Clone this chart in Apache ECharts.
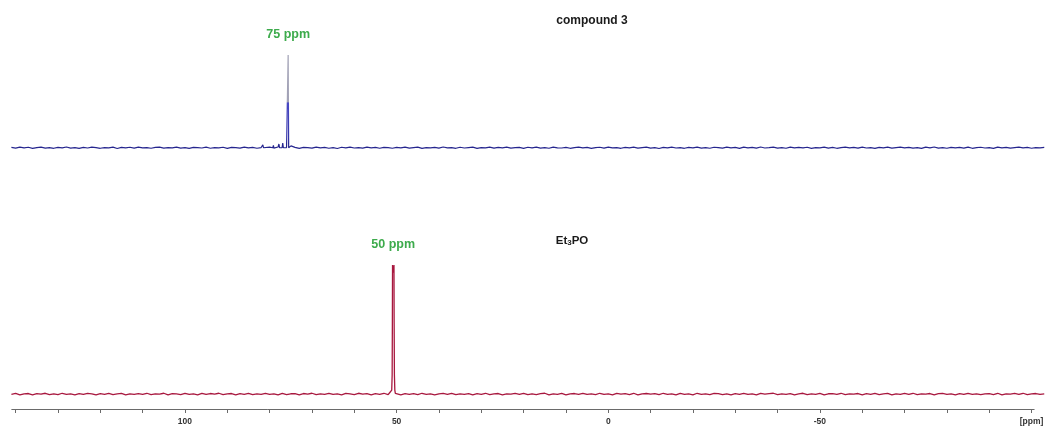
<!DOCTYPE html>
<html><head><meta charset="utf-8">
<script src="https://cdn.jsdelivr.net/npm/echarts@6/dist/echarts.min.js"></script>
<style>html,body{margin:0;padding:0;background:#fff}#c{width:1048px;height:430px}</style>
</head><body><div id="c"></div>
<script>
// ---- data ----
const baseStart = 141;            // ppm of first baseline sample (1 ppm steps, high -> low)
const topNoise = [
0.3,-0.5,0.7,-0.2,0.5,-0.7,0.2,0.6,-0.4,0.1,
-0.6,0.4,-0.2,0.8,-0.4,0.1,-0.7,0.4,-0.3,0.6,
0.1,-0.6,0.2,-0.1,0.6,-0.8,0.4,-0.1,0.5,-0.4,
0.7,-0.2,0.2,-0.6,0.3,0.6,-0.5,0.1,-0.2,0.7,
-0.4,0.2,-0.7,0.4,0.1,-0.3,0.6,-0.6,0.2,-0.1,
0.5,-0.7,0.3,0.1,-0.4,0.7,-0.2,0.4,-0.6,0.2,
-0.1,0.6,-0.4,0.8,-0.5,0.2,-0.2,0.4,-0.7,0.3,
0.1,-0.4,0.6,-0.1,0.4,-0.6,0.2,-0.8,0.5,-0.2,
0.7,-0.3,0.1,-0.5,0.6,-0.1,0.3,-0.6,0.4,0.2,
-0.6,0.4,-0.2,0.7,-0.4,0.1,0.6,-0.7,0.2,-0.2,
0.4,-0.4,0.8,-0.1,0.1,-0.6,0.5,-0.3,0.2,0.6,
-0.7,0.2,-0.2,0.6,-0.5,0.4,-0.1,0.7,-0.4,0.1,
0.3,-0.7,0.5,-0.2,0.6,-0.4,0.2,-0.6,0.7,-0.1,
-0.3,0.4,-0.6,0.1,0.6,-0.2,0.4,-0.7,0.2,0.5,
-0.4,0.7,-0.2,0.1,-0.6,0.3,-0.1,0.6,-0.4,0.2,
0.7,-0.5,0.2,-0.8,0.4,-0.1,0.6,-0.3,0.1,-0.6,
0.4,-0.2,0.7,-0.4,0.2,-0.6,0.5,0.1,-0.4,0.6,
-0.2,0.3,-0.7,0.6,-0.1,0.4,-0.5,0.8,-0.3,0.1,
0.6,-0.4,0.2,-0.6,0.7,-0.2,0.4,-0.1,0.5,-0.7,
0.2,-0.1,0.6,-0.4,0.3,-0.6,0.1,0.7,-0.2,0.4,
-0.5,0.7,-0.3,0.2,-0.7,0.4,-0.1,0.6,-0.4,0.2,
0.6,-0.2,0.4,-0.5,0.1,-0.7,0.6,-0.2,0.8,-0.4,
0.2,-0.6,0.4,-0.1,0.3,-0.4,0.7,-0.6,0.1,0.5,
-0.3,0.2,-0.7,0.6,-0.2,0.4,-0.5,0.1,0.6,-0.2,
0.4,-0.6,0.2,-0.1,0.4
];
const bottomNoise = [
-0.2,0.5,-0.6,0.2,0.4,-0.6,0.3,-0.1,0.6,-0.4,
0.2,-0.5,0.6,-0.2,0.1,-0.6,0.4,-0.3,0.5,0.2,
-0.6,0.3,-0.2,0.6,-0.4,0.1,0.5,-0.6,0.2,-0.2,
0.4,-0.3,0.6,-0.5,0.2,-0.1,0.6,-0.6,0.3,0.1,
-0.4,0.6,-0.2,0.2,-0.6,0.5,-0.3,0.4,-0.1,0.6,
-0.5,0.2,0.4,-0.6,0.3,-0.2,0.6,-0.4,0.1,-0.3,
0.6,-0.2,0.2,-0.6,0.5,-0.4,0.2,0.3,-0.6,0.4,
-0.1,0.6,-0.5,0.2,-0.3,0.6,-0.2,0.1,-0.6,0.5,
0.2,-0.4,0.6,-0.1,0.3,-0.6,0.4,-0.2,0.6,-0.5,
0.1,0.5,-0.6,0.3,-0.2,0.4,-0.5,0.6,-0.2,0.2,
-0.6,0.2,0.5,-0.3,0.6,-0.4,0.1,-0.2,0.4,-0.6,
0.3,-0.2,0.6,-0.5,0.2,0.4,-0.6,0.2,-0.1,0.5,
-0.3,0.6,-0.4,0.1,-0.5,0.3,0.6,-0.6,0.2,-0.2,
0.5,-0.6,0.2,0.4,-0.2,0.6,-0.3,0.1,-0.5,0.6,
-0.2,0.2,-0.6,0.5,-0.1,0.3,-0.4,0.6,-0.6,0.2,
0.4,-0.1,0.3,-0.5,0.6,-0.2,0.2,-0.6,0.5,-0.3,
0.2,-0.6,0.6,-0.2,0.1,-0.4,0.5,0.3,-0.5,0.2,
-0.6,0.4,-0.2,0.6,-0.3,0.2,-0.6,0.5,-0.1,0.3,
0.6,-0.5,0.1,-0.2,0.4,-0.6,0.2,0.6,-0.4,0.2,
-0.3,0.5,-0.6,0.2,0.3,-0.2,0.6,-0.5,0.2,-0.1,
0.4,-0.6,0.3,-0.2,0.6,-0.4,0.1,0.5,-0.6,0.2,
-0.2,0.6,-0.3,0.6,-0.5,0.2,-0.1,0.4,-0.6,0.3,
0.5,-0.2,0.2,-0.6,0.4,-0.3,0.6,-0.2,0.2,-0.5,
0.1,0.3,-0.4,0.6,-0.6,0.2,-0.1,0.5,-0.3,0.6,
-0.5,0.2,0.4,-0.2,0.1
];
// [ppm, relative intensity]
const topPeaks = [
[81.75,0],[81.6,3],[81.45,0],
[79.25,0],[79.1,2.5],[78.95,0],
[77.95,0],[77.8,4],[77.65,0],
[77.05,0],[76.9,5],[76.75,0],
[75.75,0],[75.62,100],[75.5,0],
[75.1,0],[74.95,2],[74.8,0]
];
const bottomPeak = [
[51.9,0.8],[51.6,1.2],[51.3,1.8],[51.15,3],[51.05,15],[51.0,55],[50.96,100],
[50.8,94],[50.62,100],[50.58,55],[50.52,15],[50.42,3],[50.3,0.5]
];
const bottomPeakGap = [50.2, 51.95];  // baseline samples replaced by the peak shape
const topLabel = {ppm:75.62, text:'75 ppm'};
const bottomLabel = {ppm:50.8, text:'50 ppm'};
const tickValues = [140,130,120,110,100,90,80,70,60,50,40,30,20,10,0,-10,-20,-30,-40,-50,-60,-70,-80,-90,-100];
const labelValues = [100,50,0,-50,-100];
const axisUnit = '[ppm]';
const axisSpan = [141, -100.7];      // extent of the drawn ppm axis line
const topTitle = 'compound 3';
const bottomTitle = ['Et','3','PO'];

// ---- build series ----
function build(noise, peaks, gap){
  const pts = [];
  noise.forEach((v,i)=>{
    const p = baseStart - i;
    if(gap && p>=gap[0] && p<=gap[1]) return;
    pts.push([p,v]);
  });
  peaks.forEach(p=>pts.push(p));
  pts.sort((a,b)=>b[0]-a[0]);
  return pts;
}
const topData = build(topNoise, topPeaks, null);
const botData = build(bottomNoise, bottomPeak, bottomPeakGap);

const FONT = 'Arial, "Liberation Sans", sans-serif';
const chart = echarts.init(document.getElementById('c'), null, {renderer:'canvas'});
const XMIN = -103.2, XMAX = 141;
const BOT_YMIN = -11.6;
const peakLabel = (txt)=>({show:true, position:'top', distance:13, formatter:txt,
  color:'#3dab4c', fontSize:12.5, fontWeight:'bold', fontFamily:FONT});

chart.setOption({
  animation:false,
  backgroundColor:'#ffffff',
  grid:[
    {left:11.4, right:2.9, top:55, height:102},
    {left:11.4, right:2.9, top:265, height:144}
  ],
  xAxis:[
    {gridIndex:0, type:'value', inverse:true, min:XMIN, max:XMAX, show:false},
    {gridIndex:1, type:'value', inverse:true, min:XMIN, max:XMAX,
     splitLine:{show:false},
     axisLine:{show:false, onZero:false},
     axisTick:{show:true, customValues:tickValues, length:4, lineStyle:{color:'#6a6a6a'}},
     axisLabel:{customValues:labelValues, margin:8, fontSize:8.5, fontWeight:'bold', color:'#333',
       fontFamily:FONT, formatter:v=> v===-100 ? axisUnit : String(v)}
    }
  ],
  yAxis:[
    {gridIndex:0, type:'value', min:-10, max:100, show:false},
    {gridIndex:1, type:'value', min:BOT_YMIN, max:100, show:false}
  ],
  graphic:[
    {type:'text', x:592, y:21, style:{text:topTitle, font:'bold 12px '+FONT, fill:'#1a1a1a', align:'center', verticalAlign:'middle'}},
    {type:'text', x:572, y:241, style:{text:'{a|'+bottomTitle[0]+'}{b|'+bottomTitle[1]+'}{a|'+bottomTitle[2]+'}',
      align:'center', verticalAlign:'middle',
      rich:{a:{fontSize:11.5, fontWeight:'bold', fontFamily:FONT, fill:'#1a1a1a', color:'#1a1a1a'},
            b:{fontSize:8, fontWeight:'bold', fontFamily:FONT, fill:'#1a1a1a', color:'#1a1a1a', padding:[4,0,0,0]}}}}
  ],
  series:[
    {type:'line', xAxisIndex:0, yAxisIndex:0, data:topData, showSymbol:false, clip:false, silent:true,
     lineStyle:{width:1.2, color:new echarts.graphic.LinearGradient(0,0,0,430,[
        {offset:0, color:'#a2a2b6'},{offset:0.236, color:'#a2a2b6'},
        {offset:0.24, color:'#4848c4'},{offset:0.32, color:'#3333a8'},{offset:0.335, color:'#25258e'},{offset:1, color:'#25258e'}], true)},
     markPoint:{silent:true, symbol:'circle', symbolSize:1, itemStyle:{color:'rgba(0,0,0,0)'},
       data:[{coord:[topLabel.ppm,100], label:peakLabel(topLabel.text)}]}
    },
    {type:'line', xAxisIndex:1, yAxisIndex:1, data:botData, showSymbol:false, clip:false, silent:true,
     lineStyle:{width:1.3, color:'#a8183f'},
     markPoint:{silent:true, symbol:'circle', symbolSize:1, itemStyle:{color:'rgba(0,0,0,0)'},
       data:[{coord:[bottomLabel.ppm,100], label:peakLabel(bottomLabel.text)}]},
     markLine:{silent:true, symbol:['none','none'], label:{show:false},
       lineStyle:{color:'#6a6a6a', width:1, type:'solid'},
       data:[[{coord:[axisSpan[0],BOT_YMIN]},{coord:[axisSpan[1],BOT_YMIN]}]]}
    }
  ]
});
</script></body></html>
